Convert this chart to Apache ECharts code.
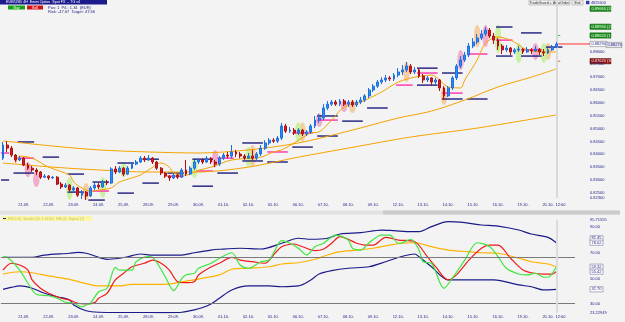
<!DOCTYPE html>
<html>
<head>
<meta charset="utf-8">
<script src="https://cdn.jsdelivr.net/npm/echarts@6/dist/echarts.min.js"></script>
<style>
  html, body { margin: 0; padding: 0; background: #f3f3f3; }
  #main { width: 625px; height: 322px; }
</style>
</head>
<body>
<div id="main"></div>
<script>
// day labels, 6 bars (4h) per day, 5 bars of the previous friday before
const days = ['21.09.', '22.09.', '23.09.', '24.09.', '25.09.', '28.09.', '29.09.', '30.09.', '01.10.', '02.10.',
  '05.10.', '06.10.', '07.10.', '08.10.', '09.10.', '12.10.', '13.10.', '14.10.', '15.10.', '16.10.', '19.10.', '20.10.'];
const priceTicks = [0.823, 0.825, 0.83, 0.835, 0.84, 0.845, 0.85, 0.855, 0.86, 0.865, 0.87, 0.875, 0.88];
const oscTicks = [23.22949, 30, 50, 70, 90, 95.71555];

// open, close, low, high
const bars = [
  [.8385,.8436,.8378,.8448],[.8436,.8424,.8409,.8451],[.8424,.8397,.8389,.8432],[.8397,.8378,.8370,.8401],
  [.8378,.8385,.8374,.8393],[.8385,.8358,.8354,.8389],[.8358,.8346,.8339,.8366],[.8346,.8339,.8331,.8354],
  [.8339,.8331,.8319,.8346],[.8331,.8311,.8304,.8335],[.8311,.8315,.8308,.8323],[.8315,.8308,.8300,.8319],
  [.8308,.8311,.8304,.8315],[.8311,.8284,.8280,.8315],[.8284,.8273,.8265,.8292],[.8273,.8280,.8269,.8288],
  [.8280,.8261,.8257,.8284],[.8261,.8269,.8253,.8276],[.8269,.8241,.8234,.8273],[.8241,.8253,.8226,.8261],
  [.8253,.8238,.8222,.8257],[.8238,.8269,.8234,.8276],[.8269,.8280,.8261,.8288],[.8280,.8273,.8265,.8288],
  [.8273,.8292,.8269,.8300],[.8292,.8288,.8280,.8300],[.8288,.8343,.8284,.8350],[.8343,.8331,.8323,.8354],
  [.8331,.8346,.8327,.8354],[.8346,.8323,.8315,.8350],[.8323,.8346,.8319,.8354],[.8346,.8362,.8343,.8370],
  [.8362,.8370,.8358,.8378],[.8370,.8385,.8366,.8393],[.8385,.8378,.8370,.8393],[.8378,.8385,.8374,.8397],
  [.8385,.8370,.8362,.8389],[.8370,.8346,.8339,.8374],[.8346,.8327,.8319,.8350],[.8327,.8315,.8308,.8331],
  [.8315,.8308,.8296,.8319],[.8308,.8319,.8304,.8327],[.8319,.8311,.8304,.8323],[.8311,.8339,.8308,.8346],
  [.8339,.8323,.8315,.8378],[.8323,.8346,.8319,.8354],[.8346,.8370,.8339,.8378],[.8370,.8378,.8362,.8385],
  [.8378,.8370,.8362,.8385],[.8370,.8385,.8366,.8393],[.8385,.8370,.8362,.8389],[.8370,.8362,.8350,.8378],
  [.8362,.8385,.8354,.8393],[.8385,.8397,.8378,.8405],[.8397,.8393,.8385,.8409],[.8393,.8409,.8385,.8436],
  [.8409,.8401,.8389,.8417],[.8401,.8393,.8385,.8409],[.8393,.8385,.8378,.8401],[.8385,.8393,.8382,.8405],
  [.8393,.8385,.8378,.8417],[.8385,.8401,.8378,.8409],[.8401,.8424,.8393,.8436],[.8424,.8444,.8417,.8455],
  [.8444,.8455,.8436,.8463],[.8455,.8451,.8444,.8463],[.8451,.8463,.8444,.8471],[.8463,.8510,.8455,.8522],
  [.8510,.8490,.8483,.8518],[.8490,.8494,.8483,.8506],[.8494,.8483,.8475,.8502],[.8483,.8494,.8475,.8502],
  [.8494,.8479,.8471,.8498],[.8479,.8487,.8471,.8494],[.8487,.8510,.8479,.8518],[.8510,.8533,.8502,.8549],
  [.8533,.8541,.8522,.8557],[.8541,.8580,.8533,.8595],[.8580,.8595,.8572,.8607],[.8595,.8603,.8588,.8611],
  [.8603,.8595,.8588,.8611],[.8595,.8607,.8588,.8615],[.8607,.8595,.8588,.8615],[.8595,.8603,.8584,.8611],
  [.8603,.8592,.8584,.8611],[.8592,.8603,.8584,.8611],[.8603,.8611,.8595,.8623],[.8611,.8627,.8603,.8634],
  [.8627,.8650,.8619,.8658],[.8650,.8665,.8642,.8673],[.8665,.8681,.8658,.8689],[.8681,.8689,.8673,.8700],
  [.8689,.8697,.8681,.8708],[.8697,.8693,.8685,.8704],[.8693,.8708,.8685,.8716],[.8708,.8720,.8700,.8735],
  [.8720,.8728,.8708,.8747],[.8728,.8743,.8720,.8759],[.8743,.8720,.8712,.8751],[.8720,.8728,.8712,.8739],
  [.8728,.8704,.8697,.8735],[.8704,.8689,.8677,.8712],[.8689,.8697,.8681,.8704],[.8697,.8681,.8669,.8700],
  [.8681,.8689,.8673,.8697],[.8689,.8658,.8646,.8693],[.8658,.8627,.8611,.8665],[.8627,.8658,.8623,.8665],
  [.8658,.8697,.8650,.8704],[.8697,.8743,.8689,.8751],[.8743,.8767,.8735,.8782],[.8767,.8786,.8759,.8798],
  [.8786,.8821,.8778,.8833],[.8821,.8837,.8813,.8852],[.8837,.8852,.8829,.8868],[.8852,.8868,.8844,.8883],
  [.8868,.8883,.8860,.8895],[.8883,.8860,.8852,.8891],[.8860,.8844,.8829,.8872],[.8844,.8821,.8806,.8852],
  [.8821,.8806,.8790,.8829],[.8806,.8813,.8798,.8825],[.8813,.8798,.8786,.8817],[.8798,.8806,.8790,.8813],
  [.8806,.8809,.8798,.8821],[.8809,.8798,.8790,.8813],[.8798,.8806,.8794,.8817],[.8806,.8802,.8790,.8813],
  [.8802,.8809,.8798,.8821],[.8809,.8798,.8786,.8813],[.8798,.8794,.8782,.8809],[.8794,.8806,.8790,.8813],
  [.8806,.8817,.8802,.8825],[.8817,.8829,.8813,.8837]
];

// moving averages [bar index, price]
const fastMa = [[3,.8366],[4,.8393],[7,.8385],[11,.8350],[16,.8319],[17,.8292],[19,.8269],[21,.8257],[23,.8261],
  [26,.8269],[28,.8292],[31,.8308],[33,.8319],[35,.8339],[38,.8366],[40,.8350],[41,.8327],[44,.8319],[47,.8338],
  [50,.8350],[55,.8378],[62,.8389],[65,.8409],[67,.8417],[70,.8444],[74,.8483],[76,.8487],[79,.8533],[82,.8584],
  [86,.8603],[91,.8642],[95,.8681],[99,.8700],[103,.8708],[107,.8662],[110,.8658],[111,.8689],[114,.8767],
  [116,.8833],[119,.8856],[122,.8844],[124,.8825],[126,.8806],[130,.8798],[133,.8798]];
const midMa = [[0,.8452],[12,.8432],[23,.8417],[35,.8409],[47,.8405],[59,.8417],[71,.8444],[83,.8490],[95,.8541],
  [103,.8568],[111,.8611],[119,.8662],[127,.8700],[133,.8732]];
const slowMa = [[0,.8366],[12,.8350],[23,.8339],[35,.8331],[47,.8331],[59,.8350],[71,.8389],[83,.8424],[98,.8467],
  [114,.8502],[133,.8553]];

// level marks [from bar, to bar, price]
const navyLevels = [[4,7,.8448],[10,13,.8389],[3,7,.8327],[0,1,.8300],[16,19,.8323],[16,19,.8253],[21,24,.8222],
  [22,25,.8292],[28,31,.8366],[28,31,.8249],[34,37,.8381],[34,37,.8288],[40,43,.8327],[46,50,.8381],[46,50,.8276],
  [52,56,.8327],[58,62,.8444],[58,62,.8374],[64,68,.8370],[70,74,.8428],[76,80,.8549],[76,80,.8471],[82,86,.8529],
  [88,92,.8580],[100,104,.8735],[100,104,.8669],[106,110,.8716],[106,110,.8615],[112,116,.8615],[119,122,.8895],
  [119,122,.8782],[125,129,.8872],[125,129,.8782],[131,134,.8817]];
const pinkLevels = [[0,1,.8405],[4,7,.8385],[22,25,.8257],[40,43,.8315],[47,50,.8335],[52,55,.8385],[64,68,.8409],
  [70,74,.8483],[76,80,.8533],[95,98,.8669],[100,104,.8716],[106,110,.8638],[112,116,.8790],[119,122,.8844],
  [125,129,.8806]];

// signal ovals [bar, top, bottom]
const pinkOvals = [[6,.8370,.8311],[8,.8331,.8273],[51,.8417,.8350],[76,.8560,.8506],[82,.8611,.8564],
  [110,.8806,.8728],[116,.8903,.8817],[128,.8833,.8767]];
const orangeOvals = [[20,.8288,.8222],[60,.8436,.8350],[72,.8525,.8448],[84,.8611,.8560],[97,.8759,.8681],
  [106,.8662,.8592],[114,.8903,.8817],[131,.8833,.8767]];
const greenOvals = [[16,.8311,.8222],[24,.8311,.8230],[29,.8366,.8311],[46,.8385,.8308],[59,.8428,.8350],
  [71,.8525,.8448],[119,.8903,.8794],[124,.8833,.8755],[130,.8833,.8755]];

// oscillator pane [bar, value]
const upperBand = [[0,66.6],[7,66.6],[10,68.4],[16,69.8],[18,70.5],[20,69.8],[23,66.6],[25,65.1],[28,65.9],[30,67.1],
  [33,69.2],[36,68.4],[40,68.4],[43,68.4],[46,70.2],[50,72.3],[52,72.9],[57,73.7],[62,73.1],[67,77.6],[71,81.5],
  [74,80.7],[78,81.5],[81,84.8],[86,85.8],[91,87.9],[94,87.4],[98,86.6],[100,86.6],[103,90.5],[107,94.4],[111,93.6],
  [115,91.8],[119,91.0],[124,87.9],[127,84.8],[131,82.2],[133,78.0]];
const lowerBand = [[0,41.7],[2,43.2],[4,44.3],[7,42.5],[10,38.6],[13,35.9],[16,33.4],[17,29.5],[20,25.0],[23,23.8],
  [28,23.6],[31,23.6],[35,23.6],[40,23.5],[43,23.8],[46,25.6],[48,27.5],[50,30.3],[52,34.7],[55,41.2],[59,44.3],
  [64,44.3],[67,43.7],[71,44.3],[74,49.0],[76,53.6],[79,56.2],[83,58.1],[88,59.3],[92,63.2],[95,66.5],[99,69.2],
  [100,67.1],[103,59.3],[107,49.0],[112,49.0],[118,49.0],[124,45.1],[127,43.7],[130,41.2],[133,41.7]];
const fastOsc = [[0,67.1],[1,66.6],[4,56.7],[6,46.4],[8,37.8],[11,36.7],[13,34.7],[15,31.6],[17,30.8],[19,28.1],
  [20,29.5],[21,30.8],[23,39.8],[25,42.5],[27,58.8],[28,56.7],[31,56.7],[32,63.2],[35,67.1],[36,66.6],[39,51.5],
  [41,40.6],[43,50.3],[44,52.9],[46,54.2],[47,58.1],[50,62.0],[52,65.9],[55,70.2],[57,60.6],[59,58.1],[62,63.2],
  [64,64.5],[65,69.8],[67,79.6],[69,77.6],[71,73.7],[73,68.4],[75,74.9],[77,77.6],[80,84.0],[83,80.1],[84,73.7],
  [86,72.3],[88,78.0],[91,84.0],[93,84.0],[95,77.6],[96,78.0],[98,80.7],[100,72.3],[101,63.2],[103,62.0],
  [106,42.5],[108,50.3],[111,64.5],[114,78.0],[117,74.9],[119,67.1],[121,58.1],[124,53.6],[126,52.9],[128,54.2],
  [130,51.1],[131,51.1],[133,59.3]];
const slowOsc = [[0,56.7],[2,62.0],[4,60.6],[6,56.7],[7,49.0],[9,42.5],[11,38.6],[14,34.7],[16,33.4],[18,30.8],
  [20,30.3],[22,31.3],[23,34.7],[25,38.6],[27,49.0],[29,54.2],[31,59.3],[34,62.0],[36,64.5],[38,62.0],[40,56.7],
  [42,47.6],[44,46.9],[46,47.6],[47,52.9],[50,59.1],[52,62.0],[55,66.6],[57,64.5],[60,63.2],[63,62.0],[65,68.4],
  [67,74.9],[70,77.0],[72,74.9],[75,71.8],[77,72.9],[79,77.6],[81,82.7],[83,80.7],[85,77.6],[87,76.2],[89,76.2],
  [92,82.2],[95,80.1],[99,78.8],[102,67.1],[104,59.3],[107,49.0],[109,52.9],[112,64.5],[115,73.7],[117,76.2],
  [119,76.2],[122,65.9],[125,56.7],[127,54.6],[130,53.6],[132,53.6],[133,55.4]];
const trendOsc = [[0,53.6],[4,55.4],[7,54.6],[11,52.1],[16,49.5],[19,46.9],[23,44.3],[28,44.3],[31,45.6],[35,45.6],
  [40,45.8],[43,47.6],[47,49.7],[52,52.9],[55,57.3],[59,58.1],[64,59.3],[67,61.4],[71,62.4],[75,65.1],[78,68.4],
  [81,71.0],[85,72.3],[89,73.7],[93,76.2],[98,78.0],[100,77.6],[103,74.9],[107,72.3],[112,71.0],[115,70.2],
  [119,69.8],[124,65.9],[127,63.2],[131,61.4],[133,59.3]];
const oscLevels = [67, 30.5];

const targets = [0.8966, 0.8896, 0.8862];
const lastPrice = 0.8829;
const stopPrice = 0.8762;
const oscTags = [81.45, 78.02, 59.32, 55.42, 41.70];

// category labels
const cats = [];
for (let i = 0; i < 5; i++) cats.push('');
days.forEach(d => { cats.push(d); for (let k = 0; k < 5; k++) cats.push(''); });
cats[134] = '12:00';
cats.push('');

const FONT = 'Liberation Sans';
const NAVY = '#23238c';

function segSeries(data, color) {
  return {
    type: 'custom', xAxisIndex: 0, yAxisIndex: 0, z: 3, silent: true,
    encode: { x: [0, 1], y: 2 },
    data: data,
    renderItem: function (params, api) {
      const a = api.coord([api.value(0), api.value(2)]);
      const b = api.coord([api.value(1), api.value(2)]);
      return { type: 'line', shape: { x1: a[0] - 2, y1: a[1], x2: b[0] + 2, y2: b[1] },
        style: { stroke: color, lineWidth: 1.4 } };
    }
  };
}
function ovalSeries(data, color) {
  return {
    type: 'custom', xAxisIndex: 0, yAxisIndex: 0, z: 1, silent: true,
    encode: { x: 0, y: [1, 2] },
    data: data,
    renderItem: function (params, api) {
      const t = api.coord([api.value(0), api.value(1)]);
      const b = api.coord([api.value(0), api.value(2)]);
      return { type: 'ellipse', shape: { cx: t[0], cy: (t[1] + b[1]) / 2, rx: 3.2, ry: (b[1] - t[1]) / 2 },
        style: { fill: color } };
    }
  };
}
function lineSeries(data, color, grid, width) {
  return {
    type: 'line', xAxisIndex: grid, yAxisIndex: grid, data: data, symbol: 'none', smooth: 0.3,
    lineStyle: { color: color, width: width || 1 }, z: 4, silent: true
  };
}

const chart = echarts.init(document.getElementById('main'));
const option = {
  backgroundColor: '#f3f3f3',
  animation: false,
  textStyle: { fontFamily: FONT },
  grid: [
    { left: 0, top: 0, width: 575, height: 198 },
    { left: 0, top: 220, width: 575, height: 93 }
  ],
  xAxis: [0, 1].map(g => ({
    type: 'category', gridIndex: g, data: cats, boundaryGap: true,
    axisLine: { show: false }, axisTick: { show: false }, splitLine: { show: false },
    axisLabel: { interval: 0, fontSize: 4, color: NAVY, margin: g === 0 ? 5 : 2, fontFamily: FONT }
  })),
  yAxis: [
    {
      type: 'value', gridIndex: 0, position: 'right', min: 0.823, max: 0.9, scale: true,
      splitLine: { show: false }, axisLine: { show: false }, axisTick: { show: false },
      axisLabel: { customValues: priceTicks, fontSize: 4, color: NAVY, margin: 15, fontFamily: FONT,
        formatter: v => v.toFixed(5) }
    },
    {
      type: 'value', gridIndex: 1, position: 'right', min: 23.22949, max: 95.71555,
      splitLine: { show: false }, axisLine: { show: false }, axisTick: { show: false },
      axisLabel: { customValues: oscTicks, fontSize: 4, color: NAVY, margin: 15, fontFamily: FONT,
        formatter: v => (Number.isInteger(v) ? v.toFixed(2) : v.toFixed(5)) }
    }
  ],
  series: [
    ovalSeries(pinkOvals, 'rgba(240,150,190,0.75)'),
    ovalSeries(orangeOvals, 'rgba(245,195,140,0.8)'),
    ovalSeries(greenOvals, 'rgba(190,240,140,0.8)'),
    lineSeries(slowMa, '#f5a300', 0, 1),
    lineSeries(midMa, '#f5a300', 0, 1),
    lineSeries(fastMa, '#f5a300', 0, 1),
    segSeries(pinkLevels, '#ff2fb0'),
    segSeries(navyLevels, '#1c1c7c'),
    {
      type: 'candlestick', xAxisIndex: 0, yAxisIndex: 0, data: bars, barWidth: 2.4, z: 5, silent: true,
      itemStyle: { color: '#2b8ff0', color0: '#d01f1f', borderColor: '#1f6fe0', borderColor0: '#b01010', borderWidth: 1 },
      markLine: {
        silent: true, symbol: 'none', label: { show: false },
        lineStyle: { color: '#d9d9d9', width: 2, type: 'solid' },
        data: [{ xAxis: 133 }]
      }
    },
    lineSeries(upperBand, '#1a1a8a', 1, 1.2),
    lineSeries(lowerBand, '#1a1a8a', 1, 1.2),
    lineSeries(trendOsc, '#ffb300', 1, 1.2),
    lineSeries(slowOsc, '#ee1c1c', 1, 1.2),
    Object.assign(lineSeries(fastOsc, '#3ee63e', 1, 1.2), {
      markLine: {
        silent: true, symbol: 'none', label: { show: false },
        lineStyle: { color: '#7a7a7a', width: 1, type: 'solid' },
        data: oscLevels.map(v => ({ yAxis: v })).concat([{ xAxis: 133, lineStyle: { color: '#dcdcdc', width: 2 } }])
      }
    })
  ]
};
chart.setOption(option);

// overlay: header, tags on the price scale, scrollbar
function tag(x, y, w, text, fill, stroke, color) {
  return {
    type: 'group', x: x, y: y - 2.6,
    children: [
      { type: 'rect', shape: { x: 0, y: 0, width: w, height: 5.2 }, style: { fill: fill, stroke: stroke, lineWidth: 0.6 } },
      { type: 'text', x: 1.5, y: 2.6, style: { text: text, fill: color, fontSize: 4, fontFamily: FONT, verticalAlign: 'middle' } }
    ]
  };
}
const py = v => chart.convertToPixel({ yAxisIndex: 0 }, v);
const oy = v => chart.convertToPixel({ yAxisIndex: 1 }, v);
const lastX = chart.convertToPixel({ xAxisIndex: 0 }, 133);

const graphics = [
  // title strip and order buttons
  { type: 'rect', shape: { x: 0, y: 0, width: 107, height: 4.6 }, style: { fill: '#1b1b8e' } },
  { type: 'text', x: 6, y: 2.4, style: { text: 'EUR/USD 4H  Emini Option  Spot FX  – TG v4', fill: '#ffffff', fontSize: 3.6, fontFamily: FONT, verticalAlign: 'middle' } },
  { type: 'rect', shape: { x: 8, y: 5.5, width: 17, height: 4 }, style: { fill: '#16a416' } },
  { type: 'text', x: 16.5, y: 7.6, style: { text: 'Buy', fill: '#ffffff', fontSize: 3.6, fontFamily: FONT, align: 'center', verticalAlign: 'middle' } },
  { type: 'rect', shape: { x: 27, y: 5.5, width: 16, height: 4 }, style: { fill: '#d41414' } },
  { type: 'text', x: 35, y: 7.6, style: { text: 'Sell', fill: '#ffffff', fontSize: 3.6, fontFamily: FONT, align: 'center', verticalAlign: 'middle' } },
  { type: 'text', x: 48, y: 7.4, style: { text: 'Pos: 1  P/L: 1.34  (EUR)', fill: NAVY, fontSize: 4, fontFamily: FONT, verticalAlign: 'middle' } },
  { type: 'text', x: 48, y: 12.2, style: { text: 'Risk: -47.67  Target: 47.66', fill: NAVY, fontSize: 4, fontFamily: FONT, verticalAlign: 'middle' } },
  // top right controls
  { type: 'rect', shape: { x: 529, y: 0, width: 41, height: 5 }, style: { fill: '#ececec', stroke: '#9a9a9a', lineWidth: 0.5 } },
  { type: 'text', x: 549.5, y: 2.6, style: { text: 'TradeGuard + AutoOrder', fill: '#333333', fontSize: 3.6, fontFamily: FONT, align: 'center', verticalAlign: 'middle' } },
  { type: 'rect', shape: { x: 572, y: 0, width: 11, height: 5 }, style: { fill: '#ececec', stroke: '#9a9a9a', lineWidth: 0.5 } },
  { type: 'text', x: 577.5, y: 2.6, style: { text: 'Exit', fill: '#333333', fontSize: 3.6, fontFamily: FONT, align: 'center', verticalAlign: 'middle' } },
  { type: 'rect', shape: { x: 586, y: 0.8, width: 3.4, height: 3.4 }, style: { fill: '#2a3aa8' } },
  { type: 'text', x: 591, y: 2.6, style: { text: '4825600', fill: NAVY, fontSize: 3.8, fontFamily: FONT, verticalAlign: 'middle' } },
  // current price line
  { type: 'line', shape: { x1: lastX + 2, y1: py(lastPrice), x2: 590, y2: py(lastPrice) }, style: { stroke: '#ff1a1a', lineWidth: 0.9 } },
  { type: 'line', shape: { x1: lastX + 1, y1: py(targets[2]), x2: lastX + 4, y2: py(targets[2]) }, style: { stroke: '#49c049', lineWidth: 1 } },
  { type: 'line', shape: { x1: lastX + 1, y1: py(stopPrice), x2: lastX + 4, y2: py(stopPrice) }, style: { stroke: '#e07030', lineWidth: 1 } },
  // scrollbar strip
  { type: 'rect', shape: { x: 0, y: 210.5, width: 620, height: 4 }, style: { fill: '#e1e1e1' } },
  { type: 'rect', shape: { x: 383, y: 210.5, width: 237, height: 4 }, style: { fill: '#cbcbcb' } },
  // oscillator caption
  { type: 'rect', shape: { x: 2, y: 216, width: 90, height: 5 }, style: { fill: '#faf6a6' } },
  { type: 'rect', shape: { x: 3, y: 218, width: 3, height: 1 }, style: { fill: '#1a1a8a' } },
  { type: 'text', x: 8, y: 218.6, style: { text: 'RSI (14)  Bands (34; 1.6185)  MA (2)  Signal (7)', fill: '#c9c06a', fontSize: 3.6, fontFamily: FONT, verticalAlign: 'middle' } }
];
targets.forEach((t, k) => graphics.push(tag(590, py(t), 21, t.toFixed(5) + ' (' + (3 - k) + ')', '#1f8f1f', '#0e5e0e', '#e8ffe8')));
graphics.push(tag(590, py(lastPrice), 17, lastPrice.toFixed(5), '#ffffff', '#8a8a8a', NAVY));
graphics.push(tag(606, py(lastPrice) + 1, 16, '0.88270', '#e6e6ee', '#8a8a8a', NAVY));
graphics.push(tag(590, py(stopPrice), 21, stopPrice.toFixed(5) + ' (S)', '#8e1414', '#5a0a0a', '#ffe0e0'));
oscTags.forEach(v => graphics.push(tag(590, oy(v), 13, v.toFixed(2), '#ffffff', '#7a7a9a', NAVY)));

chart.setOption({ graphic: graphics });
</script>
</body>
</html>
